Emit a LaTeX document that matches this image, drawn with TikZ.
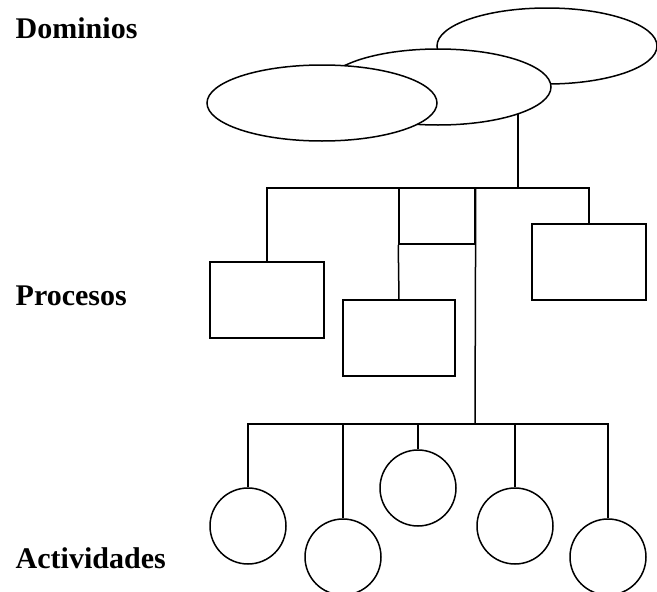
\documentclass[tikz,border=0pt]{standalone}
\usepackage{fontspec}
\setmainfont{Liberation Serif}
\usetikzlibrary{shapes.geometric, backgrounds}

\begin{document}
\begin{tikzpicture}[x=1pt, y=-1pt, every path/.style={line width=1.5pt},
    dom/.style={draw, fill=white, ellipse, inner sep=0pt, minimum width=226pt, minimum height=76pt},
    proc/.style={draw, fill=white, rectangle, inner sep=0pt, minimum width=114pt, minimum height=76pt},
    act/.style={draw, fill=white, circle, inner sep=0pt, minimum size=76pt},
    lbl/.style={anchor=base west, inner sep=0pt, font=\fontsize{30}{36}\selectfont\bfseries}]
    \useasboundingbox (0,0) rectangle (657,592);
    % niveles
    \node[lbl] (ldom) at (15,38) {Dominios};
    \node[lbl] (lproc) at (15,305) {Procesos};
    \node[lbl] (lact) at (15,568) {Actividades};
    % dominios
    \node[dom, minimum width=220pt] (dC) at (547,46) {};
    \node[dom] (dB) at (438,87) {};
    \node[dom, minimum width=230pt] (dA) at (322,103) {};
    % procesos
    \node[proc] (pA) at (267,300) {};
    \node[proc, minimum width=76pt, minimum height=56pt] (pB) at (437,216) {};
    \node[proc, minimum width=112pt] (pC) at (399,338) {};
    \node[proc] (pD) at (589,262) {};
    % actividades
    \node[act] (aA) at (248,526) {};
    \node[act] (aB) at (343,557) {};
    \node[act] (aC) at (418,488) {};
    \node[act] (aD) at (515,526) {};
    \node[act] (aE) at (608,557) {};
    \coordinate (hub) at (518,188);
    \coordinate (abar) at (475,424);
    \begin{scope}[on background layer, line width=1.5pt]
        \draw (dB.center -| hub) -- (hub);
        \draw (pA.north) -- (pA.north |- hub) -- (pD.north |- hub) -- (pD.north);
        \draw (pB.south west) -- (pC.north);
        \draw (pB.north east) -- (abar);
        \draw (aA.north) -- (aA.north |- abar) -- (aE.north |- abar) -- (aE.north);
        \draw (aB.north) -- (aB.north |- abar);
        \draw (aC.north) -- (aC.north |- abar);
        \draw (aD.north) -- (aD.north |- abar);
    \end{scope}
\end{tikzpicture}
\end{document}
